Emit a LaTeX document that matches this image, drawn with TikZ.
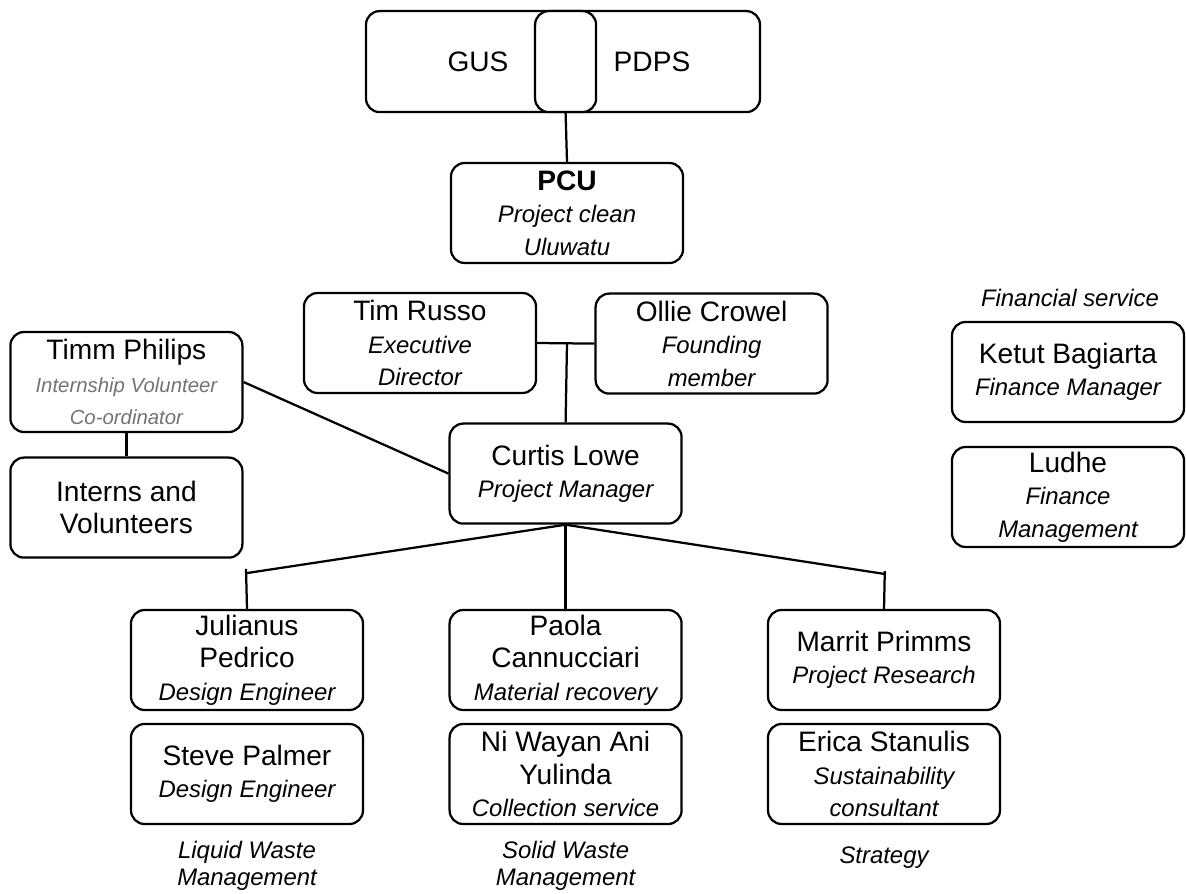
\documentclass[tikz,border=0pt]{standalone}
\usepackage{fontspec}
\setmainfont{Liberation Sans}
\usepackage{xcolor}
\usepackage{tikz}
\usetikzlibrary{positioning,calc}

\definecolor{subgray}{gray}{0.45}
\newcommand{\role}[1]{{\fontsize{17}{23}\selectfont\itshape #1}}
\newcommand{\smallrole}[1]{{\fontsize{14.5}{23}\selectfont\itshape\color{subgray} #1}}

\begin{document}
\begin{tikzpicture}[
		box/.style={draw, rounded corners=0.34cm, line width=1.6pt, minimum width=5.8cm, minimum height=2.5cm, align=center, inner sep=2pt, font=\fontsize{20}{23}\selectfont},
		unitlabel/.style={align=center, font=\fontsize{17}{19.5}\selectfont\itshape},
		link/.style={line width=1.6pt}
	]
		\useasboundingbox (0,0) rectangle (29.65,-22.35);

		% partners on top
		\node[box, minimum width=9.85cm, minimum height=2.525cm] (partners) at (14.075,-1.54) {};
		\node[box, fill=white, minimum width=1.525cm, minimum height=2.525cm] (joint) at (14.14,-1.54) {};
		\node[font=\fontsize{20}{23}\selectfont] (gus) at (11.95,-1.55) {GUS};
		\node[font=\fontsize{20}{23}\selectfont] (pdps) at (16.3,-1.55) {PDPS};

		\node[box] (pcu) at (14.175,-5.325) {\textbf{PCU}\\\role{Project clean}\\\role{Uluwatu}};
		\draw[link] (joint.south) -- (pcu.north);

		% board and management
		\node[box] (russo) at (10.5,-8.575) {Tim Russo\\\role{Executive}\\\role{Director}};
		\node[box] (crowel) at (17.79,-8.59) {Ollie Crowel\\\role{Founding}\\\role{member}};
		\node[box] (lowe) at (14.14,-11.84) {Curtis Lowe\\\role{Project Manager}};
		\coordinate (boardjoin) at (14.175,-8.58);
		\draw[link] (russo.east) -- (crowel.west);
		\draw[link] (lowe.north) -- (boardjoin);

		\node[box] (philips) at (3.16,-9.55) {Timm Philips\\\smallrole{Internship Volunteer}\\\smallrole{Co-ordinator}};
		\node[box] (interns) at (3.16,-12.69) {Interns and\\Volunteers};
		\draw[link] (philips) -- (interns);
		\draw[link] (philips.east) -- (lowe.west);

		% finance
		\node[unitlabel] (finlabel) at (26.75,-7.45) {Financial service};
		\node[box] (bagiarta) at (26.7,-9.3) {Ketut Bagiarta\\\role{Finance Manager}};
		\node[box] (ludhe) at (26.7,-12.425) {Ludhe\\\role{Finance}\\\role{Management}};

		% liquid waste
		\node[box] (pedrico) at (6.175,-16.5) {Julianus\\Pedrico\\\role{Design Engineer}};
		\node[box] (palmer) at (6.175,-19.35) {Steve Palmer\\\role{Design Engineer}};
		\node[unitlabel] (liquid) at (6.175,-21.65) {Liquid Waste\\Management};

		% solid waste
		\node[box] (cannucciari) at (14.14,-16.5) {Paola\\Cannucciari\\\role{Material recovery}};
		\node[box] (yulinda) at (14.14,-19.35) {Ni Wayan Ani\\Yulinda\\\role{Collection service}};
		\node[unitlabel] (solid) at (14.14,-21.65) {Solid Waste\\Management};

		% strategy
		\node[box] (primms) at (22.1,-16.5) {Marrit Primms\\\role{Project Research}};
		\node[box] (stanulis) at (22.1,-19.35) {Erica Stanulis\\\role{Sustainability}\\\role{consultant}};
		\node[unitlabel] (strategy) at (22.1,-21.43) {Strategy};

		\coordinate (liquidjoin) at (6.15,-14.33);
		\coordinate (liquidtick) at (6.15,-14.22);
		\coordinate (strategyjoin) at (22.12,-14.35);
		\coordinate (strategytick) at (22.12,-14.28);
		\draw[link] (lowe.south) -- (liquidjoin);
		\draw[link] (pedrico.north) -- (liquidtick);
		\draw[link] (lowe.south) -- (cannucciari.north);
		\draw[link] (lowe.south) -- (strategyjoin);
		\draw[link] (primms.north) -- (strategytick);
	\end{tikzpicture}
\end{document}
